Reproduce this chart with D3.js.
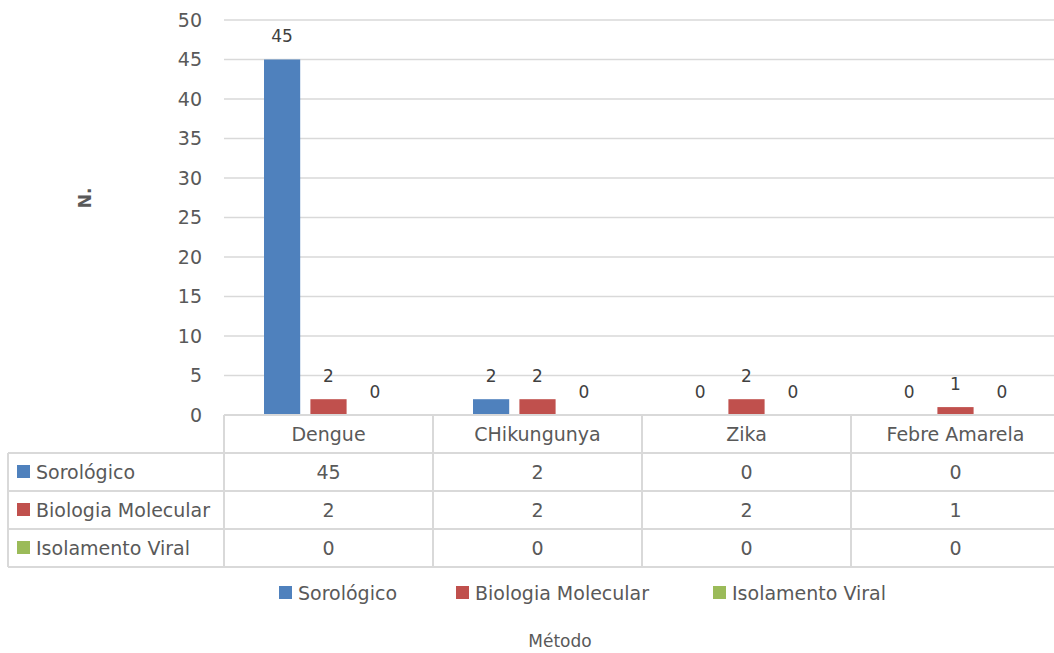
<!DOCTYPE html>
<html>
<head>
<meta charset="utf-8">
<script src="https://cdn.jsdelivr.net/npm/d3@7"></script>
<style>
  body { margin: 0; background: #fff; }
  svg { display: block; font-family: "DejaVu Sans", sans-serif; }
</style>
</head>
<body>
<div id="chart"></div>
<script>
// data
const categories = ["Dengue", "CHikungunya", "Zika", "Febre Amarela"];
const seriesNames = ["Sorológico", "Biologia Molecular", "Isolamento Viral"];
const sorologico = [45, 2, 0, 0];
const biologia = [2, 2, 2, 1];
const isolamento = [0, 0, 0, 0];
const yTicks = [0, 5, 10, 15, 20, 25, 30, 35, 40, 45, 50];
const colors = ["#4f81bd", "#c0504d", "#9bbb59"];

const seriesValues = [sorologico, biologia, isolamento];

const width = 1054, height = 653;
const plot = {left: 224, right: 1060, top: 20, bottom: 415};
const table = {left: 8, rowH: 38};
const textColor = "#595959";
const lineColor = "#d9d9d9";
const fontSize = 19;

const svg = d3.select("#chart")
    .append("svg")
    .attr("width", width)
    .attr("height", height);

const x = d3.scaleBand()
    .domain(categories)
    .range([plot.left, plot.right]);

const xInner = d3.scaleBand()
    .domain(seriesNames)
    .range([40, x.bandwidth() - 40])
    .paddingInner(0.22);

const y = d3.scaleLinear()
    .domain([0, 50])
    .range([plot.bottom, plot.top]);

// gridlines
svg.append("g")
    .selectAll("line")
    .data(yTicks.slice(1))
    .join("line")
    .attr("x1", plot.left)
    .attr("x2", plot.right)
    .attr("y1", d => y(d))
    .attr("y2", d => y(d))
    .attr("stroke", lineColor)
    .attr("stroke-width", 1.5);

// y axis labels
const yAxis = svg.append("g")
    .attr("transform", `translate(${plot.left - 22},0)`)
    .call(d3.axisLeft(y).tickValues(yTicks).tickSize(0).tickPadding(0));
yAxis.select(".domain").remove();
yAxis.selectAll("text")
    .attr("fill", textColor)
    .style("font-size", fontSize + "px")
    .style("font-family", "'DejaVu Sans', sans-serif");

// bars
const bars = [];
categories.forEach((c, i) => {
    seriesNames.forEach((s, j) => {
        bars.push({cat: c, series: s, value: seriesValues[j][i], color: colors[j]});
    });
});

svg.append("g")
    .selectAll("rect")
    .data(bars)
    .join("rect")
    .attr("x", d => x(d.cat) + xInner(d.series))
    .attr("y", d => y(d.value))
    .attr("width", xInner.bandwidth())
    .attr("height", d => y(0) - y(d.value))
    .attr("fill", d => d.color);

// data labels
svg.append("g")
    .selectAll("text")
    .data(bars)
    .join("text")
    .attr("x", d => x(d.cat) + xInner(d.series) + xInner.bandwidth() / 2)
    .attr("y", d => y(d.value) - 23)
    .attr("dy", "0.35em")
    .attr("text-anchor", "middle")
    .attr("fill", "#404040")
    .style("font-size", "17px")
    .text(d => d.value);

// data table
const tableG = svg.append("g")
    .attr("stroke", lineColor)
    .attr("stroke-width", 2);

const rowTop = i => plot.bottom + table.rowH * i;
const nRows = seriesNames.length + 1;

// horizontal lines
tableG.append("line")
    .attr("x1", plot.left).attr("x2", plot.right)
    .attr("y1", plot.bottom).attr("y2", plot.bottom);
for (let i = 1; i <= nRows; i++) {
    tableG.append("line")
        .attr("x1", table.left).attr("x2", plot.right)
        .attr("y1", rowTop(i)).attr("y2", rowTop(i));
}
// vertical lines
tableG.append("line")
    .attr("x1", table.left).attr("x2", table.left)
    .attr("y1", rowTop(1)).attr("y2", rowTop(nRows));
x.domain().concat([null]).forEach(c => {
    const xx = c === null ? plot.right : x(c);
    tableG.append("line")
        .attr("x1", xx).attr("x2", xx)
        .attr("y1", plot.bottom).attr("y2", rowTop(nRows));
});

// category header
svg.append("g")
    .selectAll("text")
    .data(categories)
    .join("text")
    .attr("x", d => x(d) + x.bandwidth() / 2)
    .attr("y", rowTop(0) + table.rowH / 2)
    .attr("dy", "0.35em")
    .attr("text-anchor", "middle")
    .attr("fill", textColor)
    .style("font-size", fontSize + "px")
    .text(d => d);

// row labels with swatches
const rows = svg.append("g")
    .selectAll("g")
    .data(seriesNames)
    .join("g")
    .attr("transform", (d, i) => `translate(0,${rowTop(i + 1) + table.rowH / 2})`);
rows.append("rect")
    .attr("x", table.left + 9)
    .attr("y", -7)
    .attr("width", 13)
    .attr("height", 13)
    .attr("fill", (d, i) => colors[i]);
rows.append("text")
    .attr("x", table.left + 28)
    .attr("dy", "0.35em")
    .attr("fill", textColor)
    .style("font-size", fontSize + "px")
    .text(d => d);

// table values
seriesNames.forEach((s, j) => {
    svg.append("g")
        .selectAll("text")
        .data(categories)
        .join("text")
        .attr("x", d => x(d) + x.bandwidth() / 2)
        .attr("y", rowTop(j + 1) + table.rowH / 2)
        .attr("dy", "0.35em")
        .attr("text-anchor", "middle")
        .attr("fill", textColor)
        .style("font-size", fontSize + "px")
        .text((d, i) => seriesValues[j][i]);
});

// legend
const legendX = [279, 456, 713];
const legend = svg.append("g")
    .selectAll("g")
    .data(seriesNames)
    .join("g")
    .attr("transform", (d, i) => `translate(${legendX[i]},593)`);
legend.append("rect")
    .attr("y", -7)
    .attr("width", 13)
    .attr("height", 13)
    .attr("fill", (d, i) => colors[i]);
legend.append("text")
    .attr("x", 19)
    .attr("dy", "0.35em")
    .attr("fill", textColor)
    .style("font-size", fontSize + "px")
    .text(d => d);

// axis titles
svg.append("text")
    .attr("x", 560)
    .attr("y", 641)
    .attr("dy", "0.35em")
    .attr("text-anchor", "middle")
    .attr("fill", textColor)
    .style("font-size", "17px")
    .text("Método");

svg.append("text")
    .attr("transform", "translate(85,198) rotate(-90)")
    .attr("dy", "0.35em")
    .attr("text-anchor", "middle")
    .attr("fill", textColor)
    .style("font-size", "17px")
    .style("font-weight", "bold")
    .text("N.");
</script>
</body>
</html>
